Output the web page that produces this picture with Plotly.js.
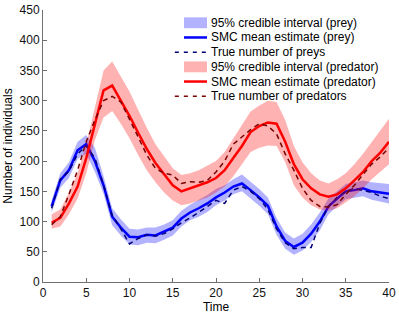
<!DOCTYPE html>
<html>
<head>
<meta charset="utf-8">
<script src="https://cdn.plot.ly/plotly-3.0.1.min.js"></script>
<style>html,body{margin:0;padding:0;background:#fff;}#chart{width:399px;height:314px;}</style>
</head>
<body>
<div id="chart"></div>
<script>
const time = [1,2,3,4,5,6,7,8,9,10,11,12,13,14,15,16,17,18,19,20,21,22,23,24,25,26,27,28,29,30,31,32,33,34,35,36,37,38,39,40];

const preyMean = [125,168,185,218,228,200,160,108,90,75,74,78,77,83,90,105,115,122,130,140,148,158,163,152,140,126,92,68,58,65,80,100,125,138,150,152,155,150,148,146];
const preyTrue = [122,170,183,212,225,205,160,110,88,63,72,78,76,80,88,98,106,115,125,135,130,152,158,150,138,120,88,65,55,57,57,97,125,140,150,155,152,148,142,138];
const preyUpper = [135,180,198,232,243,222,175,122,104,88,87,90,90,95,102,118,128,136,144,154,160,170,178,166,154,140,106,82,72,80,95,115,138,150,162,165,168,165,163,162];
const preyLower = [115,156,172,204,212,182,146,94,77,62,61,65,64,70,77,92,102,108,116,127,135,145,150,138,126,112,78,55,45,52,66,85,112,125,137,140,142,136,133,130];

const predMean = [98,106,130,158,205,262,317,325,300,275,247,220,197,178,160,150,155,160,165,172,185,205,225,248,258,264,262,232,195,170,155,145,141,145,155,168,182,200,214,232];
const predTrue = [95,108,145,185,232,268,300,307,298,270,240,210,188,180,177,163,166,165,168,182,200,228,240,252,262,258,245,212,185,155,135,125,124,128,145,160,178,195,207,222];
const predUpper = [112,120,148,180,228,290,350,365,340,315,285,255,228,207,188,177,180,185,192,200,215,238,260,282,292,300,298,268,225,198,180,168,163,170,180,195,212,232,250,270];
const predLower = [88,92,112,138,180,235,272,283,262,238,210,185,165,148,135,127,130,135,140,148,158,175,195,215,222,226,225,198,160,140,127,120,118,122,132,142,155,170,183,195];

const xTicks = [0,5,10,15,20,25,30,35,40];
const yTicks = [0,50,100,150,200,250,300,350,400,450];

const legendLabels = [
  "95% credible interval (prey)",
  "SMC mean estimate (prey)",
  "True number of preys",
  "95% credible interval (predator)",
  "SMC mean estimate (predator)",
  "True number of predators"
];

const FONT = "Liberation Sans, Arial, Helvetica, sans-serif";
const blueFill = "rgba(0,0,255,0.3)";
const redFill = "rgba(255,0,0,0.3)";
const blue = "#0000ff";
const red = "#ff0000";
const navy = "#00007a";
const maroon = "#7a0000";
const axisColor = "#707070";

function band(upper, lower, color) {
  return {
    x: time.concat(time.slice().reverse()),
    y: upper.concat(lower.slice().reverse()),
    fill: "toself", fillcolor: color, line: {width: 0}, mode: "lines",
    hoverinfo: "skip", showlegend: false
  };
}
function line(y, color, width, dash) {
  return {x: time, y: y, mode: "lines", line: {color: color, width: width, dash: dash}, showlegend: false};
}

const traces = [
  band(preyUpper, preyLower, blueFill),
  line(preyMean, blue, 2.5, "solid"),
  line(preyTrue, navy, 1.5, "5px,4px"),
  band(predUpper, predLower, redFill),
  line(predMean, red, 2.5, "solid"),
  line(predTrue, maroon, 1.5, "5px,4px")
];

// manual legend in paper coordinates
const rowY = [0.953, 0.899, 0.845, 0.791, 0.737, 0.683];
const sx0 = 0.4075, sx1 = 0.474, tx = 0.479, dx0 = 0.381;
const swatch = [
  {type: "patch", color: blueFill},
  {type: "line", color: blue, width: 2.5, dash: "solid", x0: sx0},
  {type: "line", color: navy, width: 1.5, dash: "4px,5px", x0: dx0},
  {type: "patch", color: redFill},
  {type: "line", color: red, width: 2.5, dash: "solid", x0: sx0},
  {type: "line", color: maroon, width: 1.5, dash: "4px,5px", x0: dx0}
];
const shapes = [];
const annotations = [];
swatch.forEach((s, i) => {
  if (s.type === "patch") {
    shapes.push({type: "rect", xref: "paper", yref: "paper", x0: sx0, x1: sx1,
      y0: rowY[i] - 0.02, y1: rowY[i] + 0.02, fillcolor: s.color, line: {width: 0}});
  } else {
    shapes.push({type: "line", xref: "paper", yref: "paper", x0: s.x0, x1: sx1,
      y0: rowY[i], y1: rowY[i], line: {color: s.color, width: s.width, dash: s.dash}});
  }
  annotations.push({xref: "paper", yref: "paper", x: tx, y: rowY[i], xanchor: "left", yanchor: "middle",
    text: legendLabels[i], showarrow: false, font: {family: FONT, size: 12, color: "#000"}});
});

const layout = {
  width: 399, height: 314,
  margin: {l: 43, r: 10, t: 10, b: 32},
  paper_bgcolor: "#fff", plot_bgcolor: "#fff",
  font: {family: FONT, size: 12, color: "#000"},
  showlegend: false,
  xaxis: {
    range: [0, 40], tickvals: xTicks, ticktext: xTicks.map(String),
    ticks: "inside", ticklen: 4, tickcolor: axisColor, showline: true, linecolor: axisColor, linewidth: 1,
    showgrid: false, zeroline: false, mirror: false,
    title: {text: "Time", font: {family: FONT, size: 12}, standoff: 2},
    tickfont: {family: FONT, size: 12, color: "#111"}
  },
  yaxis: {
    range: [0, 450], tickvals: yTicks, ticktext: yTicks.map(String),
    ticks: "inside", ticklen: 4, tickcolor: axisColor, showline: true, linecolor: axisColor, linewidth: 1,
    showgrid: false, zeroline: false, mirror: false,
    title: {text: "Number of individuals", font: {family: FONT, size: 12}, standoff: 4},
    tickfont: {family: FONT, size: 12, color: "#111"}
  },
  shapes: shapes,
  annotations: annotations
};

Plotly.newPlot("chart", traces, layout, {displayModeBar: false, staticPlot: true});
</script>
</body>
</html>
